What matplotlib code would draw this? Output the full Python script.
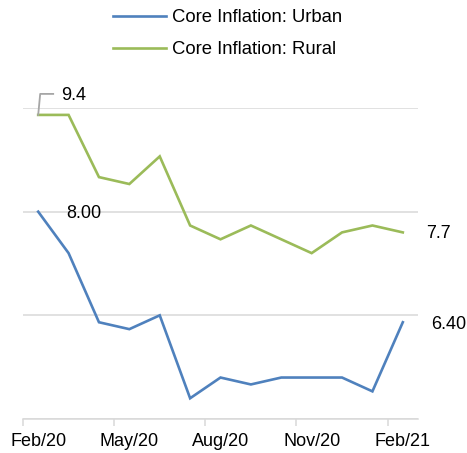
import matplotlib
matplotlib.use("Agg")
import matplotlib.pyplot as plt
from matplotlib.lines import Line2D
from matplotlib.transforms import IdentityTransform

plt.rcParams['font.family'] = ['Liberation Sans', 'DejaVu Sans']

months = ["Feb/20", "Mar/20", "Apr/20", "May/20", "Jun/20", "Jul/20", "Aug/20",
          "Sep/20", "Oct/20", "Nov/20", "Dec/20", "Jan/21", "Feb/21"]
urban = [8.0, 7.4, 6.4, 6.3, 6.5, 5.3, 5.6, 5.5, 5.6, 5.6, 5.6, 5.4, 6.4]
rural = [9.4, 9.4, 8.5, 8.4, 8.8, 7.8, 7.6, 7.8, 7.6, 7.4, 7.7, 7.8, 7.7]
tick_labels = ["Feb/20", "May/20", "Aug/20", "Nov/20", "Feb/21"]

W, H = 467, 453
fig = plt.figure(figsize=(W / 100, H / 100), dpi=100)
ax = fig.add_axes([23 / W, (H - 419) / H, (418 - 23) / W, (419 - 108) / H])

x = list(range(len(months)))
blue = "#4F81BD"
green = "#9BBB59"
grid = "#D9D9D9"

l1, = ax.plot(x, urban, color=blue, lw=1.9, label="Core Inflation: Urban", solid_joinstyle="miter")
l2, = ax.plot(x, rural, color=green, lw=1.9, label="Core Inflation: Rural", solid_joinstyle="miter")

ax.set_xlim(-0.5, len(months) - 0.5)
ax.set_ylim(5.0, 9.5)
ax.set_yticks([5.0, 6.5, 8.0, 9.5])
ax.yaxis.grid(True, color=grid, lw=1.1)
ax.set_axisbelow(True)
ax.tick_params(axis='y', left=False, labelleft=False)

ax.set_xticks([0, 3, 6, 9, 12])
ax.set_xticklabels(tick_labels, fontsize=13)
ax.set_xticks([-0.5, 2.5, 5.5, 8.5, 11.5], minor=True)
ax.tick_params(axis='x', which='major', length=0, pad=10)
ax.tick_params(axis='x', which='minor', length=5, color=grid, width=1.1)

for s in ['top', 'right', 'left']:
    ax.spines[s].set_visible(False)
ax.spines['bottom'].set_color(grid)
ax.spines['bottom'].set_linewidth(1.1)

# data labels
def lab(i, v, txt, dx, dy):
    ax.annotate(txt, xy=(i, v), xytext=(dx, dy), textcoords='offset pixels',
                ha='left', va='center', fontsize=13, annotation_clip=False)

lab(0, rural[0], "9.4", 23, 19)
lab(0, urban[0], "8.00", 28, -2)
lab(12, rural[12], "7.7", 23, -1)
lab(12, urban[12], "6.40", 28, -2)

# leader line for 9.4
fig.canvas.draw()
px, py = ax.transData.transform((0, rural[0]))
fig.add_artist(Line2D([px, px + 2, px + 15], [py, py + 21, py + 21],
                      transform=IdentityTransform(), color="#A6A6A6", lw=1.3))

fig.legend(handles=[l1, l2], loc='upper left', bbox_to_anchor=(113 / W - 0.016, 1.0 - 2 / H),
           frameon=False, fontsize=13.3, handlelength=2.9, handletextpad=0.3,
           labelspacing=0.8, borderaxespad=0.0)

fig.savefig("out.png", dpi=100)
